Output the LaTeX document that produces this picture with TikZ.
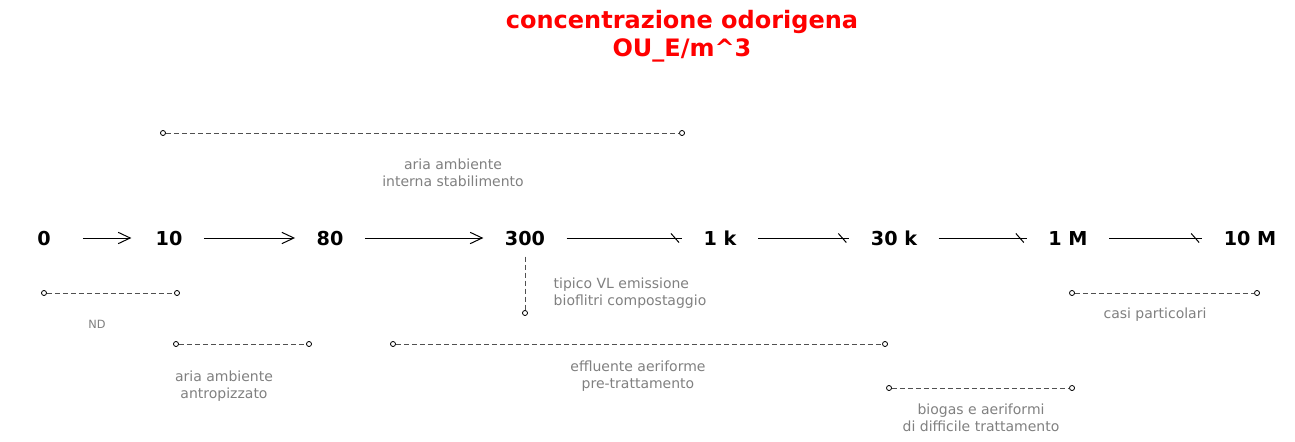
\documentclass[tikz,border=0pt]{standalone}
\usepackage{fontspec}
\setmainfont{DejaVu Sans}
\usetikzlibrary{arrows.meta,decorations.markings}
\definecolor{titlered}{HTML}{FF0000}
\definecolor{notegray}{HTML}{808080}
\definecolor{dashgray}{HTML}{505050}

\begin{document}
\begin{tikzpicture}[x=0.75pt,y=-0.75pt,
  scalept/.style={font=\bfseries\fontsize{14.4}{17}\selectfont,
    text height=10.5pt,text depth=0pt,inner xsep=16pt,inner ysep=8.5pt},
  note/.style={text=notegray,align=center,font=\fontsize{10.5}{12.4}\selectfont},
  endpt/.style={circle,draw,fill=white,inner sep=0pt,minimum size=3.8pt,line width=0.6pt},
  rangeline/.style={draw=dashgray,line width=0.6pt,dash pattern=on 3.75pt off 2.25pt},
  stepup/.style={-{Straight Barb[length=9pt,width=8.5pt]},line width=0.75pt},
  bigstep/.style={line width=0.75pt,postaction={decorate},
    decoration={markings,mark=at position -5.25pt with {\draw[line width=0.75pt] (-3pt,3.4pt)--(3pt,-3.4pt);}}}]
  \useasboundingbox (0,0) rectangle (1295,442);
  \node[text=titlered,align=center,font=\bfseries\fontsize{18}{21}\selectfont] (title) at (682,36)
    {concentrazione odorigena\\OU\_E/m\textasciicircum{}3};
  % scala dei valori
  \node[scalept] (v0) at (44,238) {0};
  \node[scalept] (v10) at (169,238) {10};
  \node[scalept] (v80) at (330,238) {80};
  \node[scalept] (v300) at (525,238) {300};
  \node[scalept] (v1k) at (720,238) {1 k};
  \node[scalept] (v30k) at (894,238) {30 k};
  \node[scalept] (v1M) at (1068,238) {1 M};
  \node[scalept] (v10M) at (1250,238) {10 M};
  \draw[stepup,shorten <=8pt,shorten >=2pt] (v0)--(v10); \draw[stepup] (v10)--(v80); \draw[stepup] (v80)--(v300);
  \draw[bigstep] (v300)--(v1k); \draw[bigstep] (v1k)--(v30k);
  \draw[bigstep] (v30k)--(v1M); \draw[bigstep] (v1M)--(v10M);
  % intervalli
  \node[endpt] (int1) at (163,133) {}; \node[endpt] (int2) at (682,133) {};
  \draw[rangeline] (int1)--(int2);
  \node[note] (intl) at (453,173) {aria ambiente\\interna stabilimento};
  \node[endpt] (nd1) at (44,293) {}; \node[endpt] (nd2) at (177,293) {};
  \draw[rangeline] (nd1)--(nd2);
  \node[note,font=\fontsize{8.5}{10}\selectfont] (ndl) at (97,324) {ND};
  \node[endpt] (ant1) at (176,344) {}; \node[endpt] (ant2) at (309,344) {};
  \draw[rangeline] (ant1)--(ant2);
  \node[note] (antl) at (224,386) {aria ambiente\\antropizzato};
  \node[endpt] (vl) at (525,313) {};
  \draw[rangeline] (v300)--(vl);
  \node[note,align=left,anchor=west] (vll) at (549,293) {tipico VL emissione\\bioflitri compostaggio};
  \node[endpt] (eff1) at (393,344) {}; \node[endpt] (eff2) at (885,344) {};
  \draw[rangeline] (eff1)--(eff2);
  \node[note] (effl) at (638,376) {effluente aeriforme\\pre-trattamento};
  \node[endpt] (bio1) at (889,388) {}; \node[endpt] (bio2) at (1072,388) {};
  \draw[rangeline] (bio1)--(bio2);
  \node[note] (biol) at (981,418) {biogas e aeriformi\\di difficile trattamento};
  \node[endpt] (cas1) at (1072,293) {}; \node[endpt] (cas2) at (1257,293) {};
  \draw[rangeline] (cas1)--(cas2);
  \node[note] (casl) at (1155,315) {casi particolari};
\end{tikzpicture}
\end{document}
